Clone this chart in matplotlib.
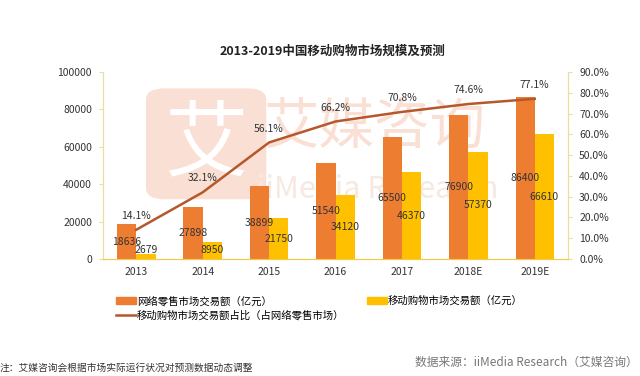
import numpy as np
import matplotlib
matplotlib.use("Agg")
import matplotlib.pyplot as plt
from matplotlib.patches import Patch, FancyBboxPatch
from matplotlib.lines import Line2D

plt.rcParams['font.family'] = ['Noto Sans CJK SC', 'DejaVu Sans']

years = ['2013', '2014', '2015', '2016', '2017', '2018E', '2019E']
online_retail = [18636, 27898, 38899, 51540, 65500, 76900, 86400]
mobile_shop = [2679, 8950, 21750, 34120, 46370, 57370, 66610]
share = [14.1, 32.1, 56.1, 66.2, 70.8, 74.6, 77.1]

c_orange = '#ED7D31'
c_yellow = '#FFC000'
c_line = '#B5582B'
c_spine = '#E6DFA0'
c_text = '#333333'
c_wm = '#FAE0D4'

fig = plt.figure(figsize=(6.4, 3.76), dpi=100)

# watermark (drawn behind the axes)
logo = FancyBboxPatch((0.228, 0.47), 0.188, 0.295, boxstyle='round,pad=0,rounding_size=0.03',
                      transform=fig.transFigure, fc=c_wm, ec='none', zorder=0)
fig.patches.append(logo)
fig.text(0.322, 0.615, '艾', fontsize=60, color='white', ha='center', va='center', zorder=0.5)
fig.text(0.585, 0.66, '艾媒咨询', fontsize=40, color=c_wm, ha='center', va='center', zorder=0.5)
fig.text(0.59, 0.495, 'iiMedia Research', fontsize=22, color='#F6E9E2', ha='center', va='center', zorder=0.5)

ax = fig.add_axes([0.161, 0.311, 0.7265, 0.4975])
ax2 = ax.twinx()
ax.set_zorder(1)
ax2.set_zorder(2)
ax.patch.set_alpha(0)
ax2.patch.set_alpha(0)

x = np.arange(len(years))
w = 0.29
ax.bar(x - w / 2, online_retail, w, color=c_orange, zorder=2)
ax.bar(x + w / 2, mobile_shop, w, color=c_yellow, zorder=2)

fs = 7.5
for i in range(len(years)):
    ax.text(x[i] - w / 2, online_retail[i] / 2, str(online_retail[i]), ha='center', va='center',
            fontsize=fs, color=c_text, zorder=4)
    ax.text(x[i] + w / 2, max(mobile_shop[i] / 2, 4800), str(mobile_shop[i]), ha='center', va='center',
            fontsize=fs, color=c_text, zorder=4)

ax2.plot(x, share, color=c_line, lw=1.8, zorder=3)
for i in range(len(years)):
    ax2.annotate(f'{share[i]:.1f}%', (x[i], share[i]), xytext=(0, 10), textcoords='offset points',
                 ha='center', va='center', fontsize=fs, color=c_text)

ax.set_xlim(-0.5, len(years) - 0.5)
ax.set_ylim(0, 100000)
ax.set_yticks(np.arange(0, 100001, 20000))
ax2.set_ylim(0, 90)
ax2.set_yticks(np.arange(0, 91, 10))
ax2.set_yticklabels([f'{v:.1f}%' for v in np.arange(0, 91, 10)])
ax.set_xticks(x)
ax.set_xticklabels(years)

for a in (ax, ax2):
    a.spines['top'].set_visible(False)
    a.spines['left'].set_color(c_spine)
    a.spines['right'].set_color(c_spine)
    a.spines['bottom'].set_color('#F2C94C')
    a.tick_params(labelsize=fs, colors=c_text, length=3, color=c_spine, pad=5)
ax.tick_params(axis='x', length=0, pad=6)

fig.text(0.52, 0.864, '2013-2019中国移动购物市场规模及预测', ha='center', va='center',
         fontsize=9, fontweight='bold', color='#222222')

leg_kw = dict(frameon=False, fontsize=7.5, handlelength=1.9, handleheight=0.55, handletextpad=0.1,
              labelspacing=0.35, borderpad=0, borderaxespad=0, loc='upper left')
leg1 = fig.legend([Patch(color=c_orange), Line2D([], [], color=c_line, lw=1.8)],
                  ['网络零售市场交易额（亿元）', '移动购物市场交易额占比（占网络零售市场）'],
                  bbox_to_anchor=(0.181, 0.213), **leg_kw)
leg2 = fig.legend([Patch(color=c_yellow)], ['移动购物市场交易额（亿元）'],
                  bbox_to_anchor=(0.573, 0.213), **leg_kw)

fig.text(0.0, 0.021, '注：艾媒咨询会根据市场实际运行状况对预测数据动态调整', ha='left', va='center',
         fontsize=7, color='#333333')
fig.text(0.997, 0.037, '数据来源：iiMedia Research（艾媒咨询）', ha='right', va='center',
         fontsize=8.5, color='#777777')

fig.savefig('out.png', dpi=100)
